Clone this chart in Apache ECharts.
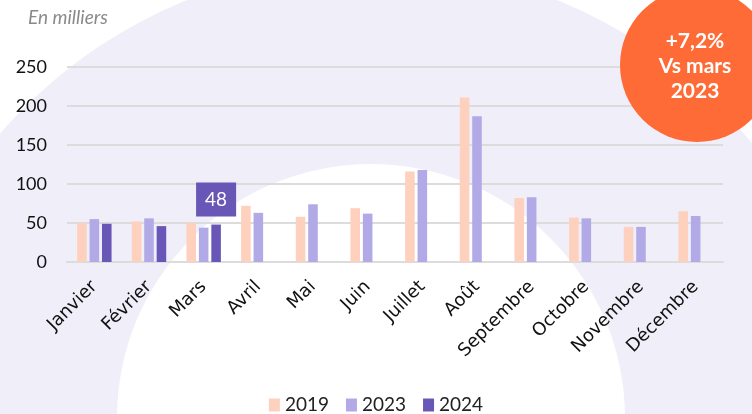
<!DOCTYPE html>
<html>
<head>
<meta charset="utf-8">
<script src="https://cdn.jsdelivr.net/npm/echarts@6/dist/echarts.min.js"></script>
<style>
  html, body { margin: 0; padding: 0; background: #fff; }
  #chart { width: 752px; height: 414px; }
</style>
</head>
<body>
<div id="chart"></div>
<script>
const months = ['Janvier', 'Février', 'Mars', 'Avril', 'Mai', 'Juin', 'Juillet', 'Août', 'Septembre', 'Octobre', 'Novembre', 'Décembre']
const yTicks = [0, 50, 100, 150, 200, 250]
const v2019 = [50, 52, 50, 72, 58, 69, 116, 211, 82, 57, 45, 65]
const v2023 = [55, 56, 44, 63, 74, 62, 118, 187, 83, 56, 45, 59]
const v2024 = [49, 46, 48, null, null, null, null, null, null, null, null, null]
const highlightIndex = 2

const font = 'Lato, "DejaVu Sans", sans-serif'
const monthFont = '"DejaVu Sans", sans-serif'

const myChart = echarts.init(document.getElementById('chart'))

const option = {
    animation: false,
    textStyle: { fontFamily: font },
    graphic: [
        // background shapes
        { type: 'circle', z: -10, shape: { cx: 372, cy: 457, r: 493 }, style: { fill: '#F0EEF9' }, silent: true },
        { type: 'circle', z: -9, shape: { cx: 371, cy: 418, r: 254 }, style: { fill: '#FFFFFF' }, silent: true },
        { type: 'circle', z: 100, shape: { cx: 697, cy: 65, r: 77 }, style: { fill: '#FE6B37' }, silent: true },
        {
            type: 'text', z: 101, x: 695, y: 29,
            style: {
                text: '+7,2%\nVs mars\n2023', fill: '#fff', font: 'bold 21px ' + font,
                textAlign: 'center', lineHeight: 25
            }
        },
        {
            type: 'text', x: 28, y: 8,
            style: { text: 'En milliers', fill: '#8a8a8a', font: 'italic 19px ' + font }
        }
    ],
    grid: {
        left: 67,
        right: 29,
        top: 67,
        bottom: 152
    },
    legend: {
        top: 395,
        left: 'center',
        padding: 0,
        itemWidth: 11,
        itemHeight: 13,
        itemGap: 17,
        icon: 'rect',
        textStyle: { fontSize: 19, lineHeight: 20, color: '#222', fontFamily: font },
        data: ['2019', '2023', '2024']
    },
    xAxis: {
        type: 'category',
        data: months,
        axisLine: { show: true, lineStyle: { color: '#dcdcdc', width: 2 } },
        axisTick: { show: false },
        axisLabel: {
            rotate: 45,
            interval: 0,
            margin: 22,
            color: '#111',
            fontSize: 18,
            fontFamily: monthFont
        }
    },
    yAxis: {
        type: 'value',
        min: yTicks[0],
        max: yTicks[yTicks.length - 1],
        interval: 50,
        axisLine: { show: false },
        axisTick: { show: false },
        splitLine: { lineStyle: { color: '#dcdcdc', width: 2 } },
        axisLabel: {
            color: '#111',
            fontSize: 18,
            margin: 20,
            fontFamily: font
        }
    },
    series: [
        {
            name: '2019',
            type: 'bar',
            barGap: '30%',
            barCategoryGap: '37%',
            itemStyle: { color: '#FDD1BD' },
            data: v2019
        },
        {
            name: '2023',
            type: 'bar',
            itemStyle: { color: '#B1AAE7' },
            data: v2023
        },
        {
            name: '2024',
            type: 'bar',
            itemStyle: { color: '#6857B6' },
            data: v2024.map((v, i) => i === highlightIndex ? {
                value: v,
                label: {
                    show: true,
                    position: 'top',
                    distance: 8,
                    color: '#fff',
                    fontSize: 19,
                    fontFamily: font,
                    backgroundColor: '#6857B6',
                    padding: [8, 9, 7, 9]
                }
            } : v)
        }
    ]
}

myChart.setOption(option)
</script>
</body>
</html>
